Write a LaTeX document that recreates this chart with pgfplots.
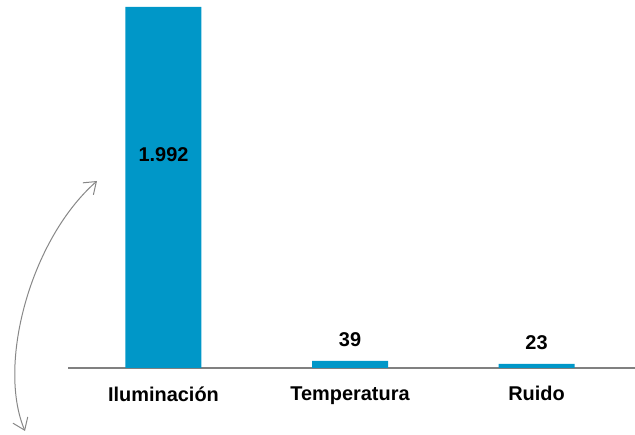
\documentclass[border=0pt]{standalone}
\usepackage{pgfplots}
\pgfplotsset{compat=1.18}
\usepackage{pgfplotstable}
\usepackage{fontspec}
\setmainfont{Liberation Sans}
\usetikzlibrary{arrows.meta}
\definecolor{barblue}{RGB}{0,151,200}
\definecolor{axgray}{RGB}{128,128,128}
\definecolor{arrgray}{RGB}{135,135,135}
\pgfplotstableread{
x y dy lab
0 1992 -148 1.992
1 39 21 39
2 23 21 23
}\datatable
\begin{document}
\begin{tikzpicture}[x=1bp,y=1bp]
\path[use as bounding box] (-68,-67) rectangle (567,368);
\begin{axis}[
  at={(0,0)}, anchor=south west,
  scale only axis, width=567bp, height=361bp,
  xmin=-0.512, xmax=2.528, ymin=0, ymax=1992,
  axis x line*=bottom, axis y line=none,
  x axis line style={draw=axgray, line width=1.5bp, -},
  xtick=data, xticklabels={Iluminación, Temperatura, Ruido},
  major tick length=0pt,
  xticklabel style={font=\fontsize{20}{24}\selectfont\bfseries, anchor=north, yshift=-15bp},
  clip=false,
]
\addplot[ybar, bar width=76bp, bar shift=0pt, fill=barblue, draw=none,
  point meta=explicit symbolic,
  visualization depends on={\thisrow{dy} \as \dy},
  nodes near coords,
  nodes near coords style={font=\fontsize{20}{24}\selectfont\bfseries, anchor=center, yshift={\dy*1bp}, text=black},
] table[x=x, y=y, meta=lab] {\datatable};
\end{axis}
\draw[arrgray, line width=1bp, {Straight Barb[length=11bp,width=16bp]}-{Straight Barb[length=11bp,width=16bp]}]
  (-43,-63) .. controls (-71,3) and (-38,128) .. (29,187);
\end{tikzpicture}
\end{document}
